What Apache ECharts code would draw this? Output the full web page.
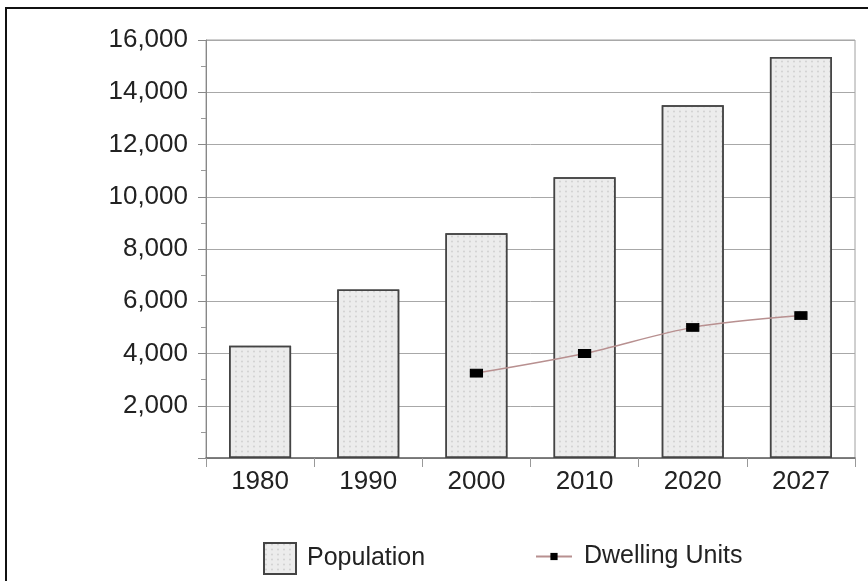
<!DOCTYPE html>
<html><head><meta charset="utf-8">
<script src="https://cdn.jsdelivr.net/npm/echarts@6/dist/echarts.min.js"></script>
<style>html,body{margin:0;padding:0;background:#fff}#c{width:868px;height:581px}</style>
</head><body><div id="c"></div>
<script>
const categories = ['1980','1990','2000','2010','2020','2027'];
const population = [4300, 6450, 8600, 10750, 13500, 15350];
const dwellingUnits = [null, null, 3250, 4000, 5000, 5450];
const yTicks = [0, 2000, 4000, 6000, 8000, 10000, 12000, 14000, 16000];

const chart = echarts.init(document.getElementById('c'));
const font = 'Liberation Sans, Arial, sans-serif';
chart.setOption({
  animation: false,
  backgroundColor: '#fff',
  graphic: [{
    type: 'rect', shape: {x: 6, y: 8, width: 880, height: 600},
    style: {fill: 'none', stroke: '#111', lineWidth: 2}, z: -10
  }],
  grid: {left: 206, right: 13, top: 40, bottom: 123, show: true, borderColor: '#a0a0a0', borderWidth: 1},
  legend: [{
    data: [{name: 'Population', icon: 'rect'}], left: 258, top: 537, itemWidth: 32, itemHeight: 31, itemGap: 10,
    textStyle: {fontSize: 25, color: '#222', fontFamily: font, padding: [0, 0, 0, 6]}
  }, {
    data: ['Dwelling Units'], left: 530, top: 539, itemWidth: 36, itemHeight: 9, itemGap: 10,
    textStyle: {fontSize: 25, color: '#222', fontFamily: font, padding: [0, 0, 0, 7]}
  }],
  xAxis: {
    type: 'category', data: categories,
    axisLine: {lineStyle: {color: '#666', width: 1.5}},
    axisTick: {show: true, length: 9, lineStyle: {color: '#999'}},
    axisLabel: {fontSize: 26, color: '#222', fontFamily: font, margin: 11}
  },
  yAxis: {
    type: 'value', min: 0, max: 16000, interval: 2000,
    axisLine: {show: true, lineStyle: {color: '#888'}},
    axisTick: {show: true, length: 8, lineStyle: {color: '#888'}},
    minorTick: {show: true, splitNumber: 2, length: 5, lineStyle: {color: '#999'}},
    splitLine: {lineStyle: {color: '#a8a8a8', width: 1}},
    axisLabel: {
      fontSize: 26, color: '#222', fontFamily: font, margin: 18,
      formatter: v => v === 0 ? '' : v.toLocaleString('en-US')
    }
  },
  series: [{
    name: 'Population', type: 'bar', data: population, barWidth: 62,
    itemStyle: {
      color: '#ececec', borderColor: '#444', borderWidth: 1.5,
      decal: {symbol: 'circle', symbolSize: 0.6, dashArrayX: [[4, 2]], dashArrayY: [3, 2], color: 'rgba(120,120,120,0.25)'}
    }
  }, {
    name: 'Dwelling Units', type: 'line', data: dwellingUnits, smooth: 0.3,
    symbol: 'rect', symbolSize: [12, 8],
    lineStyle: {color: '#b89090', width: 1.5},
    itemStyle: {color: '#000', borderColor: '#000'}
  }]
});
</script></body></html>
